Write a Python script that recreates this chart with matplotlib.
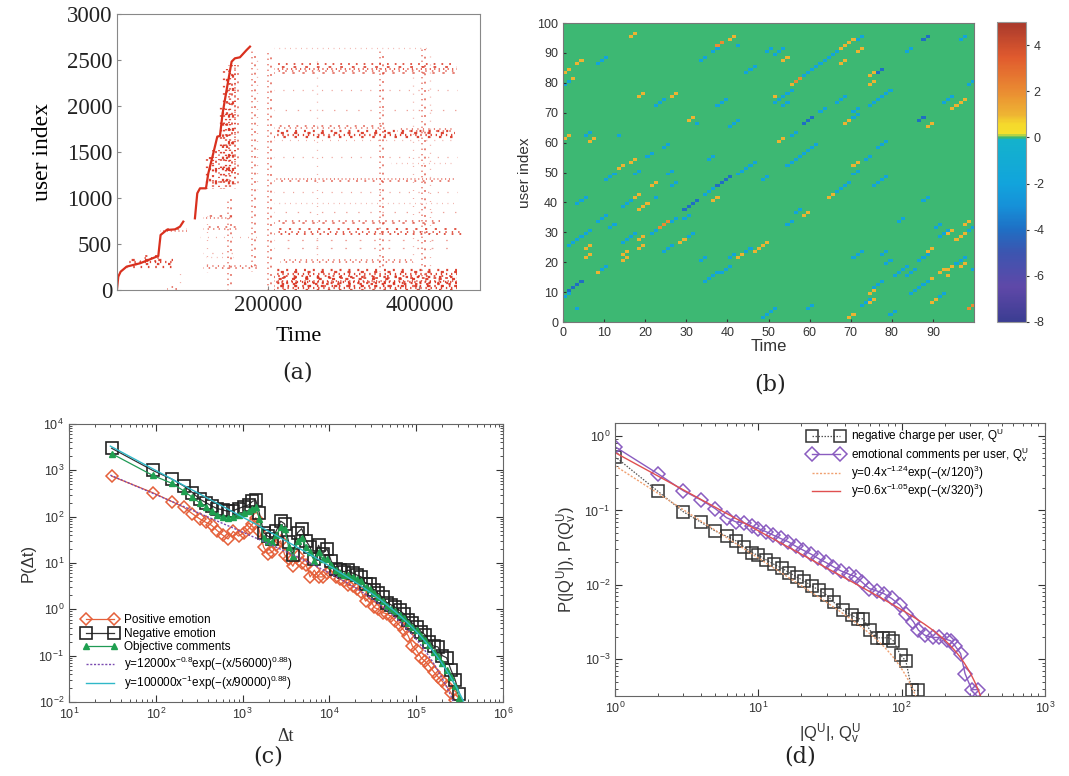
import numpy as np
import matplotlib
matplotlib.use("Agg")
import matplotlib.pyplot as plt
from matplotlib.colors import LinearSegmentedColormap

plt.rcParams['mathtext.default'] = 'regular'

# ---------------- (a) activity of users over time ----------------
# staircase of newly arriving users: (time, user index)
front1_t = [0, 1760, 4850, 12800, 30400, 43600, 54700, 56000, 57700, 65700, 76700, 83300, 87700]
front1_u = [0, 145, 199, 254, 290, 333, 370, 471, 598, 652, 659, 688, 743]
front2_t = [103100, 106200, 109800, 117700, 120800, 127400, 132700, 136200, 139700, 145000,
            151600, 156000, 162600, 171500, 175900]
front2_u = [779, 1051, 1105, 1105, 1268, 1486, 1667, 1674, 1920, 2174, 2482, 2518, 2529, 2609, 2645]

# horizontal activity rows: user index, start, end, density (0 sparse .. 3 dense)
row_u = [2627, 2427, 2373, 2174, 1956, 1775, 1739, 1696, 1630, 1449, 1377, 1196, 1069, 942,
         851, 743, 634, 543, 453, 319, 181, 127, 80, 36,
         290, 344, 652, 797, 670, 399, 254, 362, 580, 18]
row_t0 = [207000, 207600, 207600, 207600, 207600, 207600, 370000, 207600, 207600, 207600, 362000,
          207600, 207600, 207600, 207600, 207600, 207600, 207600, 207600, 215000, 207600, 207600,
          207600, 207600,
          12800, 30000, 57000, 114000, 114000, 114000, 114000, 118000, 110000, 65700]
row_t1 = [414000, 449200, 449200, 449200, 449200, 357000, 447000, 447000, 449200, 449200, 447000,
          445000, 449200, 449200, 449200, 427000, 458000, 449200, 449200, 392000, 449200, 449200,
          449200, 449200,
          74500, 57000, 92000, 154000, 163000, 163000, 184700, 154000, 189000, 78900]
row_w = [0, 2, 1, 0, 0, 1, 1, 3, 0, 0, 0, 1, 0, 0, 0, 1, 2, 0, 0, 1, 3, 2, 3, 3,
         3, 2, 1, 1, 1, 0, 1, 0, 0, 1]

# vertical bursts: time, lowest user, highest user, density
col_t = [125200, 130900, 142800, 147200, 151600, 158200, 180300, 184700, 202300, 149400,
         83300, 118600, 350000, 405100, 414000, 264000, 391900]
col_u0 = [1100, 1100, 1100, 1100, 1200, 1100, 200, 1100, 0, 0, 0, 200, 200, 100, 100, 300, 300]
col_u1 = [1450, 1550, 2000, 2400, 2450, 2450, 2600, 2500, 2600, 1000, 250, 800, 2600, 2620,
          2600, 2500, 2400]
col_w = [3, 2, 3, 3, 2, 1, 1, 0, 1, 1, 0, 0, 1, 1, 0, 0, 0]

# ---------------- (b) charge of users in a 100 x 100 window ----------------
# strokes: (start time, start user, number of steps, value); each step goes +1 in both
pos_strokes = [(16, 95, 2, 1), (37, 92, 2, 2), (40, 94, 2, 1), (3, 86, 2, 1), (0, 83, 2, 1),
               (1, 80, 2, 1), (53, 87, 2, 1), (60, 84, 2, 1), (56, 80, 2, 2), (55, 79, 1, 1),
               (51, 75, 1, 1), (67, 91, 2, 1), (69, 93, 2, 1), (71, 90, 2, 1), (67, 86, 2, 1),
               (74, 82, 2, 1), (74, 79, 2, 1), (94, 71, 2, 1), (96, 73, 2, 1), (88, 65, 2, 1),
               (68, 66, 2, 1), (18, 75, 2, 1), (26, 75, 2, 1), (30, 67, 2, 1), (0, 61, 2, 1),
               (6, 60, 2, 1), (13, 51, 2, 1), (16, 53, 2, 1), (21, 45, 2, 1), (17, 41, 2, 1),
               (18, 37, 3, 1), (5, 24, 2, 1), (5, 21, 2, 1), (8, 16, 2, 1), (14, 22, 2, 1),
               (14, 20, 2, 1), (18, 27, 2, 1), (18, 24, 2, 1), (22, 30, 4, 2), (28, 26, 2, 1),
               (36, 40, 2, 1), (42, 21, 2, 1), (46, 23, 4, 1), (52, 60, 2, 1), (58, 35, 2, 1),
               (70, 52, 2, 1), (64, 41, 2, 1), (69, 1, 2, 1), (74, 9, 2, 1), (74, 6, 2, 1),
               (81, 16, 2, 1), (88, 13, 2, 1), (88, 23, 2, 1), (89, 6, 2, 1), (91, 16, 2, 1),
               (93, 17, 2, 1), (93, 15, 1, 1), (96, 18, 2, 1), (93, 29, 2, 1), (95, 27, 2, 1),
               (97, 32, 2, 1), (97, 29, 2, 1), (98, 4, 2, 2)]
neg_strokes = [(36, 90, 2, -2), (33, 87, 2, -2), (42, 92, 1, -2), (8, 86, 3, -2), (0, 79, 2, -2),
               (49, 90, 2, -2), (51, 89, 3, -2), (44, 83, 3, -2), (62, 86, 5, -2), (58, 82, 4, -2),
               (54, 76, 2, -2), (51, 73, 3, -2), (53, 72, 2, -2), (71, 94, 2, -2), (74, 72, 6, -2),
               (83, 90, 2, -2), (96, 94, 2, -2), (98, 79, 2, -2), (92, 73, 3, -2), (66, 73, 3, -2),
               (70, 70, 2, -2), (62, 70, 2, -2), (70, 68, 2, -2), (37, 72, 3, -2), (40, 65, 3, -2),
               (22, 72, 3, -2), (32, 66, 1, -2), (13, 62, 1, -2), (5, 62, 2, -2), (24, 58, 2, -2),
               (20, 55, 2, -2), (35, 54, 2, -2), (10, 47, 3, -2), (17, 49, 2, -2), (25, 49, 2, -2),
               (26, 45, 2, -2), (22, 41, 1, -2), (14, 38, 3, -2), (8, 33, 3, -2), (3, 39, 3, -2),
               (1, 25, 6, -2), (0, 8, 2, -2), (3, 4, 1, -2), (9, 17, 2, -2), (11, 31, 2, -2),
               (14, 26, 4, -2), (21, 29, 2, -2), (24, 23, 3, -2), (26, 33, 2, -2), (30, 28, 2, -2),
               (29, 34, 2, -2), (34, 42, 3, -2), (42, 49, 5, -2), (33, 20, 2, -2), (34, 13, 4, -2),
               (40, 21, 2, -2), (38, 16, 3, -2), (44, 23, 2, -2), (48, 47, 2, -2), (48, 1, 4, -2),
               (54, 52, 3, -2), (57, 55, 5, -2), (55, 62, 2, -2), (56, 36, 2, -2), (54, 32, 2, -2),
               (59, 4, 2, -2), (75, 45, 4, -2), (73, 54, 2, -2), (68, 45, 2, -2), (66, 43, 2, -2),
               (70, 49, 2, -2), (76, 58, 3, -2), (81, 33, 2, -2), (70, 21, 3, -2), (77, 22, 2, -2),
               (75, 11, 3, -2), (72, 5, 3, -2), (79, 2, 2, -2), (78, 19, 2, -2), (80, 15, 4, -2),
               (83, 15, 3, -2), (84, 9, 5, -2), (86, 20, 3, -2), (91, 8, 2, -2), (87, 40, 2, -2),
               (95, 19, 3, -2), (91, 28, 3, -2), (98, 30, 2, -2), (90, 31, 2, -2), (99, 17, 1, -2)]
deep_strokes = [(1, 10, 4, -4), (76, 83, 2, -4), (87, 94, 2, -4), (58, 66, 3, -4),
                (29, 37, 4, -4), (37, 45, 4, -4), (86, 67, 2, -4)]

# ---------------- (c) inter-event time distributions ----------------
dt = [31, 92, 155, 210, 265, 320, 380, 440, 510, 590, 680, 780, 900, 1030, 1180, 1300, 1420,
      1560, 1750, 1950, 2200, 2450, 2750, 3050, 3400, 3800, 4300, 4800, 5400, 6000, 6700, 7500,
      8400, 9400, 10500, 11800, 13200, 14800, 16600, 18600, 20800, 23300, 26100, 29200, 32700,
      36600, 41000, 45900, 51400, 57600, 64500, 72200, 80900, 90600, 101000, 114000, 127000,
      142000, 159000, 178000, 200000, 224000, 251000, 281000, 315000]
p_positive = [750, 330, 210, 160, 115, 90, 75, 65, 50, 40, 33, 48, 38, 45, 55, 70, 95, 50, 22, 16,
              17, 25, 30, 15, 12, 8.5, 14, 10, 9, 5, 7, 5, 5, 6, 7, 5, 4.5, 4, 3.3, 3.2, 2.8, 2.4,
              1.5, 1.8, 1.1, 1.0, 0.85, 0.8, 0.7, 0.55, 0.45, 0.35, 0.27, 0.16, 0.13, 0.09, 0.075,
              0.06, 0.045, 0.035, 0.028, 0.022, 0.016, 0.011]
p_negative = [3000, 1000, 640, 460, 330, 240, 200, 170, 150, 140, 130, 135, 150, 165, 180, 215,
              225, 120, 45, 38, 33, 50, 80, 70, 28, 15, 45, 55, 30, 22, 12, 24, 16, 20, 11, 7.5,
              7, 6.5, 7, 6, 5.5, 5, 3.6, 3.6, 2.6, 2.2, 1.8, 1.4, 1.25, 1.1, 0.95, 0.8, 0.6, 0.5,
              0.42, 0.33, 0.28, 0.2, 0.16, 0.155, 0.1, 0.09, 0.05, 0.03, 0.015]
p_objective = [2300, 780, 520, 360, 260, 200, 165, 130, 110, 100, 95, 100, 110, 120, 130, 150,
               160, 90, 35, 30, 28, 40, 60, 55, 22, 14, 30, 35, 22, 17, 11, 17, 12, 12, 9, 7, 6,
               5.5, 5.5, 5, 4.5, 4, 3, 2.8, 2.2, 1.8, 1.5, 1.2, 1.0, 0.9, 0.75, 0.65, 0.5, 0.42,
               0.35, 0.27, 0.22, 0.17, 0.12, 0.1, 0.07, 0.05, 0.035, 0.022, 0.012]

# ---------------- (d) charge per user ----------------
q_neg = [1, 2, 3, 4, 5, 6, 7, 8, 9, 10, 11.25, 12.9, 14.7, 16.5, 18.5, 20.8, 23.6, 26.6, 30.0,
         33.7, 38.8, 44.8, 49.9, 54.0, 60.1, 66.9, 74.5, 82.0, 87.5, 98.4, 107, 118, 131]
p_qneg = [0.53, 0.18, 0.096, 0.069, 0.053, 0.045, 0.039, 0.032, 0.027, 0.025, 0.0219, 0.0188,
          0.0166, 0.0145, 0.0128, 0.0113, 0.0096, 0.0085, 0.0073, 0.0058, 0.0046, 0.0039,
          0.0035, 0.0035, 0.00245, 0.00194, 0.00194, 0.00194, 0.00177, 0.00113, 0.00095,
          0.00038, 0.00038]
q_emo = [1, 2, 3, 4, 5, 6, 7, 8, 9, 10, 11.4, 12.7, 14.3, 16.2, 18.2, 20.6, 23.3, 26.2, 29.6,
         33.4, 37.7, 42.9, 48.0, 52.6, 59.5, 66.9, 75.3, 85.2, 97.3, 108, 121, 131, 145, 165,
         183, 206, 220, 236, 258, 277, 308, 343]
p_qemo = [0.72, 0.31, 0.184, 0.138, 0.106, 0.08, 0.070, 0.068, 0.0616, 0.057, 0.0516, 0.0466,
          0.042, 0.0379, 0.0331, 0.0292, 0.0259, 0.0226, 0.020, 0.0175, 0.0154, 0.0139, 0.0128,
          0.011, 0.0089, 0.0083, 0.0076, 0.00655, 0.00533, 0.00411, 0.00318, 0.00246, 0.0021,
          0.00196, 0.00196, 0.00184, 0.00177, 0.00151, 0.00119, 0.00064, 0.00039, 0.00039]

RED = '#d9301e'

fig = plt.figure(figsize=(10.69, 7.76), dpi=100)

# ---- panel (a) ----
ax = fig.add_axes([0.1094, 0.6263, 0.3396, 0.3557])

# a busy row is drawn as a few thin dotted strands so it reads as scattered events
strand_offsets = {0: [0], 1: [-12, 12], 2: [-24, 0, 24], 3: [-36, -12, 12, 36]}
strand_dashes = [(0.7, 2.6), (1.1, 3.9), (0.6, 1.7), (1.4, 4.6), (0.9, 3.1)]
strand_alpha = {0: 0.45, 1: 0.7, 2: 0.8, 3: 0.9}
strand_lw = {0: 0.9, 1: 1.2, 2: 1.4, 3: 1.6}


def draw_strands(ax, a0, a1, pos, w, vertical, scale):
    for i, off in enumerate(strand_offsets[w]):
        on, gap = strand_dashes[(i + int(pos)) % len(strand_dashes)]
        if w == 0:
            gap *= 2.2
        style = (on * (i + 1) * 0.7, (on, gap))
        p = pos + off * scale
        if vertical:
            ax.plot([p, p], [a0, a1], color=RED, lw=strand_lw[w], ls=style, alpha=strand_alpha[w])
        else:
            ax.plot([a0, a1], [p, p], color=RED, lw=strand_lw[w], ls=style, alpha=strand_alpha[w])


for u, t0, t1, w in zip(row_u, row_t0, row_t1, row_w):
    draw_strands(ax, t0, t1, u, w, False, 1.0)
for t, u0, u1, w in zip(col_t, col_u0, col_u1, col_w):
    draw_strands(ax, u0, u1, t, w, True, 160.0)
ax.plot(front1_t, front1_u, color=RED, lw=1.6)
ax.plot(front2_t, front2_u, color=RED, lw=1.6)
ax.set_xlim(0, 480000)
ax.set_ylim(0, 3000)
ax.set_xticks([200000, 400000])
ax.set_yticks(range(0, 3001, 500))
for lab in ax.get_xticklabels() + ax.get_yticklabels():
    lab.set_fontfamily('Liberation Serif')
    lab.set_fontsize(16.5)
    lab.set_color('#222')
ax.tick_params(direction='in', length=3, color='#888')
for s in ax.spines.values():
    s.set_color('#888')
ax.set_xlabel('Time', fontfamily='Liberation Serif', fontsize=16, labelpad=8)
ax.set_ylabel('user index', fontfamily='Liberation Serif', fontsize=17, labelpad=10)

# ---- panel (b) ----
grid = np.zeros((100, 100))
for t0, u0, n, v in pos_strokes + neg_strokes + deep_strokes:
    for k in range(n):
        if t0 + k < 100 and u0 + k < 100:
            grid[u0 + k, t0 + k] = v


def vpos(v):
    return (v + 8) / 13.0


cmap = LinearSegmentedColormap.from_list('charge', [
    (vpos(-8), '#3b3d92'), (vpos(-6.5), '#5f48a8'), (vpos(-5), '#3c55b0'),
    (vpos(-4), '#1f6fc4'), (vpos(-3), '#1690d8'), (vpos(-2), '#12a4dc'),
    (vpos(-0.1), '#14b2cc'), (vpos(-0.02), '#3db873'), (vpos(0.02), '#3db873'),
    (vpos(0.15), '#f5e02c'), (vpos(0.6), '#f5d82c'), (vpos(1.0), '#eeb433'),
    (vpos(2.0), '#ea8c32'), (vpos(3.5), '#e05a2e'), (vpos(5), '#a8392c')])

axb = fig.add_axes([0.5267, 0.585, 0.3845, 0.3853])
im = axb.imshow(grid, origin='lower', extent=[0, 100, 0, 100], cmap=cmap, vmin=-8, vmax=5,
                aspect='auto', interpolation='nearest')
axb.set_xticks(range(0, 100, 10))
axb.set_yticks(range(0, 101, 10))
axb.tick_params(labelsize=9, colors='#333', length=2, direction='in')
for lab in axb.get_xticklabels() + axb.get_yticklabels():
    lab.set_fontfamily('Liberation Sans')
for s in axb.spines.values():
    s.set_color('#777')
axb.set_xlabel('Time', fontfamily='Liberation Sans', fontsize=12, color='#333', labelpad=0)
axb.set_ylabel('user index', fontfamily='Liberation Sans', fontsize=11, color='#333', labelpad=4)

cax = fig.add_axes([0.9327, 0.5851, 0.0271, 0.3866])
cb = fig.colorbar(im, cax=cax, ticks=[-8, -6, -4, -2, 0, 2, 4])
cb.ax.set_yticklabels(['-8', '-6', '-4', '-2', '0', '2', '4'])
cb.outline.set_edgecolor('#999')
cax.tick_params(labelsize=9, colors='#333', length=2)
for lab in cax.get_yticklabels():
    lab.set_fontfamily('Liberation Sans')

# ---- panel (c) ----
axc = fig.add_axes([0.0645, 0.0954, 0.406, 0.3582])
xf = np.logspace(np.log10(30), np.log10(3.5e5), 300)
axc.plot(dt[:len(p_positive)], p_positive, color='#e5603a', lw=0.9, marker='D', ms=6.5,
         mfc='none', mec='#e5603a', mew=1.1, label='Positive emotion')
axc.plot(dt, p_negative, color='#333333', lw=0.9, marker='s', ms=9, mfc='none', mec='#222',
         mew=1.2, label='Negative emotion')
axc.plot(dt, p_objective, color='#1f9a55', lw=0.9, marker='^', ms=4.5, mfc='#1fa050',
         mec='#1fa050', label='Objective comments')
axc.plot(xf, 12000 * xf ** -0.8 * np.exp(-(xf / 56000) ** 0.88), color='#7a4ab0', lw=1.0,
         ls=(0, (1.5, 1.2)), label='y=12000x$^{-0.8}$exp(−(x/56000)$^{0.88}$)')
axc.plot(xf, 100000 * xf ** -1.0 * np.exp(-(xf / 90000) ** 0.88), color='#30b8c8', lw=1.0,
         label='y=100000x$^{-1}$exp(−(x/90000)$^{0.88}$)')
axc.set_xscale('log')
axc.set_yscale('log')
axc.set_xlim(10, 1e6)
axc.set_ylim(1e-2, 1e4)
axc.tick_params(which='both', direction='in', top=True, right=True, labelsize=9,
                colors='#333')
axc.tick_params(which='major', length=5)
axc.tick_params(which='minor', length=2.5)
for lab in axc.get_xticklabels() + axc.get_yticklabels():
    lab.set_fontfamily('Liberation Sans')
for s in axc.spines.values():
    s.set_color('#666')
axc.set_ylabel('P(Δt)', fontfamily='Liberation Sans', fontsize=12, color='#333', labelpad=2)
axc.set_xlabel('Δt', fontfamily='Liberation Serif', fontsize=13, color='#333', labelpad=4)
legc = axc.legend(loc='upper left', bbox_to_anchor=(0.03, 0.315), frameon=False, numpoints=2,
                  handlelength=3.0, labelspacing=0.12, borderaxespad=0, borderpad=0,
                  handletextpad=0.6, prop={'family': 'Liberation Sans', 'size': 8.5})

# ---- panel (d) ----
axd = fig.add_axes([0.5753, 0.1031, 0.4022, 0.3518])
xq = np.logspace(0, np.log10(400), 300)
axd.plot(q_neg, p_qneg, color='#555', lw=0.9, ls=(0, (1.2, 1.2)), marker='s', ms=8.5,
         mfc='none', mec='#333', mew=1.1, label='negative charge per user, Q$^U$')
axd.plot(q_emo, p_qemo, color='#8a5cc0', lw=1.0, marker='D', ms=7, mfc='none', mec='#8a5cc0',
         mew=1.1, label='emotional comments per user, Q$^U_v$')
axd.plot(xq, 0.4 * xq ** -1.24 * np.exp(-(xq / 120) ** 3), color='#f0a070', lw=1.0,
         ls=(0, (1.5, 1.2)), label='y=0.4x$^{-1.24}$exp(−(x/120)$^3$)')
axd.plot(xq, 0.6 * xq ** -1.05 * np.exp(-(xq / 320) ** 3), color='#e05050', lw=1.0,
         label='y=0.6x$^{-1.05}$exp(−(x/320)$^3$)')
axd.set_xscale('log')
axd.set_yscale('log')
axd.set_xlim(1, 1000)
axd.set_ylim(3.2e-4, 1.5)
axd.tick_params(which='both', direction='in', top=True, right=True, labelsize=9,
                colors='#333')
axd.tick_params(which='major', length=5)
axd.tick_params(which='minor', length=2.5)
for lab in axd.get_xticklabels() + axd.get_yticklabels():
    lab.set_fontfamily('Liberation Sans')
for s in axd.spines.values():
    s.set_color('#666')
axd.set_ylabel('P(|Q$^U$|), P(Q$^U_v$)', fontfamily='Liberation Sans', fontsize=12,
               color='#333', labelpad=4)
axd.set_xlabel('|Q$^U$|, Q$^U_v$', fontfamily='Liberation Sans', fontsize=12, color='#333',
               labelpad=4)
axd.legend(loc='upper left', bbox_to_anchor=(0.45, 0.985), frameon=False, numpoints=2,
           handlelength=3.0, labelspacing=0.0, borderaxespad=0, borderpad=0,
           handletextpad=0.6, prop={'family': 'Liberation Sans', 'size': 8.5})

# panel captions
for x, y, s in [(298, 372, '(a)'), (770, 384, '(b)'), (268, 757, '(c)'), (800, 757, '(d)')]:
    fig.text(x / 1069, 1 - y / 776, s, ha='center', va='center', fontsize=16,
             fontfamily='DejaVu Serif', color='#222')

fig.savefig('out.png', dpi=100)
